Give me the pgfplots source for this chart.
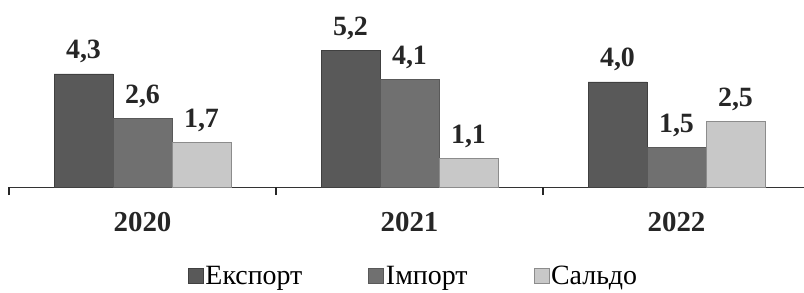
\documentclass[border=0pt]{standalone}
\usepackage{fontspec}
\setmainfont{Liberation Serif}
\newfontfamily\tnr{Liberation Serif}
\usepackage{pgfplots}
\pgfplotsset{compat=1.18}
\definecolor{cexp}{HTML}{595959}
\definecolor{cimp}{HTML}{707070}
\definecolor{csal}{HTML}{C8C8C8}
\pgfplotsset{sqlegend/.style={legend image code/.code={\path[##1] (0bp,-7bp) rectangle (15bp,8bp);}}}
\begin{document}
\begin{tikzpicture}
\begin{axis}[
  at={(9bp,106bp)}, anchor=south west,
  width=801bp, height=184bp, scale only axis,
  xmin=-0.5, xmax=2.5, ymin=0, ymax=7,
  ybar=0pt, bar width=59bp,
  hide y axis,
  axis x line*=bottom,
  x axis line style={-, line width=1pt, black!80},
  xtick={0,1,2}, xticklabels={2020,2021,2022},
  major tick length=0pt,
  xticklabel style={font=\tnr\fontsize{29}{33}\selectfont\bfseries, yshift=-22bp, text=black!85},
  extra x ticks={-0.5,0.5,1.5,2.5}, extra x tick labels={},
  extra x tick style={major tick length=8bp, tick align=outside, tick style={line width=1.2pt, black!85}},
  /pgf/number format/assume math mode=true,
  /pgf/number format/use comma, /pgf/number format/fixed, /pgf/number format/precision=1, /pgf/number format/fixed zerofill,
  nodes near coords,
  nodes near coords style={font=\tnr\fontsize{28}{32}\selectfont\bfseries, anchor=base, inner sep=0pt, yshift=15bp, text=black!85},
  legend columns=3,
  legend style={at={(0.505,-0.484)}, anchor=center, draw=none, font=\tnr\fontsize{28}{32}\selectfont,
    /tikz/every even column/.append style={column sep=64bp}, inner sep=0pt},
  clip=false,
]
\addplot[fill=cexp, draw=black!75, line width=0.6pt, sqlegend]
  coordinates {(0,4.3) (1,5.2) (2,4.0)};
\addplot[fill=cimp, draw=black!65, line width=0.6pt, sqlegend]
  coordinates {(0,2.6) (1,4.1) (2,1.5)};
\addplot[fill=csal, draw=black!45, line width=0.6pt, sqlegend]
  coordinates {(0,1.7) (1,1.1) (2,2.5)};
\legend{Експорт, Імпорт, Сальдо}
\end{axis}
\pgfresetboundingbox
\useasboundingbox (0,0) rectangle (804bp,293bp);
\end{tikzpicture}
\end{document}
